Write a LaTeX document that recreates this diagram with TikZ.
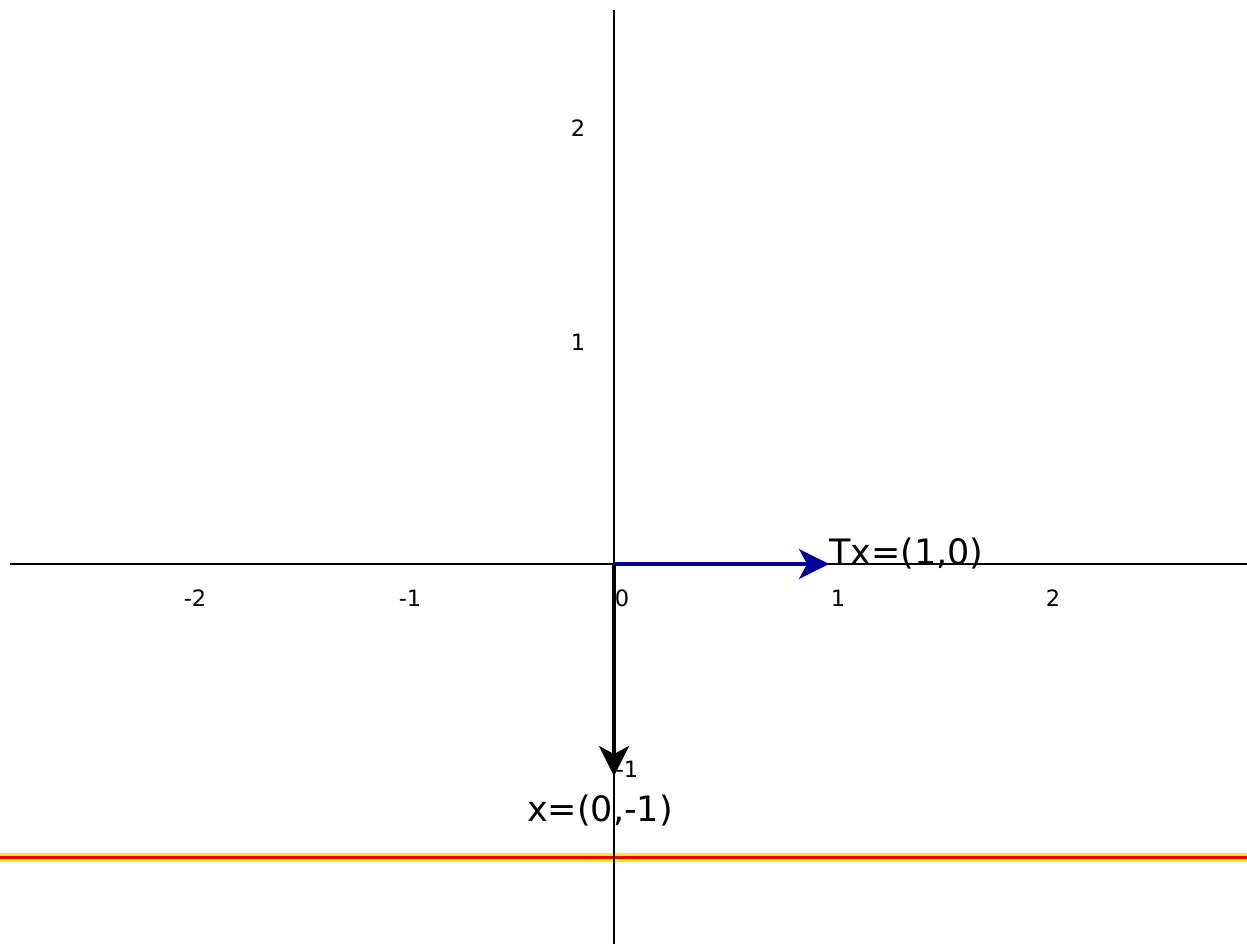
\documentclass[tikz,border=0pt]{standalone}
\usepackage{fontspec}
\setmainfont{DejaVu Sans}
\usetikzlibrary{arrows.meta}
\definecolor{vecblue}{RGB}{0,0,150}
\definecolor{bandyellow}{RGB}{255,240,0}
\definecolor{bandred}{RGB}{235,0,0}
\begin{document}
\begin{tikzpicture}[x=1pt,y=-1pt,
  axis/.style={line width=1.5pt,black},
  tick/.style={font=\fontsize{22.5}{26}\selectfont,inner sep=0pt},
  biglabel/.style={font=\fontsize{35}{40}\selectfont,inner sep=0pt},
  vec/.style={line width=3.2pt,-{Stealth[length=30pt,width=30pt,inset=8pt]}}]
\useasboundingbox (0,0) rectangle (1247,944);
\fill[white] (0,0) rectangle (1247,944);
% band line
\coordinate (bl) at (0,857);
\coordinate (br) at (1247,857);
\draw[bandyellow,line width=9pt] (bl) -- (br);
\draw[bandred,line width=3pt] (bl) -- (br);
% axes
\coordinate (O) at (614,564);
\coordinate (xl) at (10,564);
\coordinate (xr) at (1247,564);
\coordinate (yt) at (614,10);
\coordinate (yb) at (614,944);
\draw[axis] (xl) -- (xr);
\draw[axis] (yt) -- (yb);
% tick labels
\node[tick] (tm2) at (195,598) {-2};
\node[tick] (tm1) at (410,598) {-1};
\node[tick] (t0) at (622,598) {0};
\node[tick] (t1) at (838,598) {1};
\node[tick] (t2) at (1053,598) {2};
\node[tick] (ty2) at (578,128) {2};
\node[tick] (ty1) at (578,342) {1};
\node[tick] (tym1) at (627,769) {-1};
% vectors
\coordinate (Tx) at (829,564);
\coordinate (X) at (614,776);
\draw[vec,vecblue] (O) -- (Tx);
\draw[vec,black] (O) -- (X);
\node[biglabel,anchor=west] (lTx) at (829,554) {Tx=(1,0)};
\node[biglabel] (lX) at (600,811) {x=(0,-1)};
\end{tikzpicture}
\end{document}
